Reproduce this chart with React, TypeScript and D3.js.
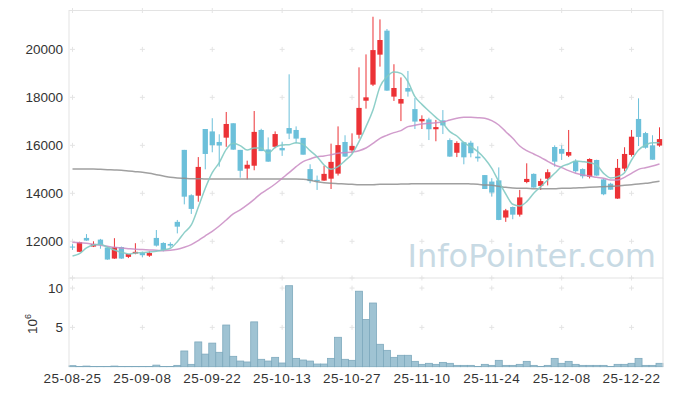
import * as d3 from "d3";

// trading-day tick labels (every 10th session)
const tickIdx = [0, 10, 20, 30, 40, 50, 60, 70, 80];
const tickLabels = ["25-08-25", "25-09-08", "25-09-22", "25-10-13", "25-10-27", "25-11-10", "25-11-24", "25-12-08", "25-12-22"];
const priceTicks = [12000, 14000, 16000, 18000, 20000];
const volTicks = [5, 10];

const open = [
  11780, 11560, 12140, 11780, 12070, 11740, 11280, 11760, 11350, 11490,
  11510, 11400, 12140, 11930, 11890, 12810, 15810, 13920, 13900, 16680,
  16580, 16140, 16320, 16920, 15810, 15030, 15150, 16640, 15830, 15940,
  15890, 16720, 16640, 16310, 15010, 14560, 14530, 14610, 14820, 16140,
  15790, 16440, 17860, 18530, 19780, 20780, 18030, 17740, 18390, 17510,
  17000, 17080, 16670, 17040, 16220, 15690, 16130, 16110, 15530, 14760,
  14490, 14540, 12990, 13430, 13110, 14470, 14810, 14310, 14610, 15930,
  15850, 15570, 15350, 15010, 14690, 15390, 14580, 14400, 13780, 15030,
  15600, 17100, 16510, 16000, 15990,
];
const close = [
  11760, 11960, 12030, 11890, 11850, 11240, 11760, 11280, 11470, 11560,
  11420, 11510, 11820, 11640, 11820, 12610, 13860, 13350, 15100, 15640,
  16010, 15990, 16890, 15820, 14940, 15190, 16560, 15760, 15320, 16470,
  15790, 16490, 16280, 15610, 14510, 14500, 14810, 15310, 16010, 15530,
  15970, 17560, 18000, 19970, 20390, 18280, 18390, 17930, 18240, 16990,
  17100, 16670, 16760, 16830, 15530, 16100, 15500, 15670, 15460, 14180,
  14030, 12890, 13290, 13110, 13830, 14600, 14240, 14510, 14880, 15320,
  15650, 15720, 14920, 14710, 15430, 14740, 13960, 14150, 15060, 15640,
  16360, 16350, 15900, 15400, 16260,
];
const high = [
  11880, 11980, 12300, 12000, 12100, 11760, 12130, 11780, 11470, 11920,
  11570, 11580, 12470, 11960, 11960, 12890, 15810, 13960, 15510, 16680,
  17130, 16460, 17390, 16920, 15810, 15360, 17430, 16690, 16330, 16580,
  16150, 18960, 16790, 16310, 15210, 14740, 15150, 16070, 16790, 16420,
  16500, 19250, 19790, 21360, 21250, 20850, 19380, 18830, 19100, 17970,
  17250, 17150, 17060, 17470, 16290, 16170, 16150, 16190, 15960, 14760,
  14630, 15080, 13350, 13450, 14140, 15250, 14830, 14610, 15000, 16000,
  16000, 16640, 15420, 15040, 15460, 15400, 14610, 14440, 15430, 15920,
  16640, 17960, 16560, 16420, 16750,
];
const low = [
  11640, 11550, 12020, 11760, 11690, 11230, 11270, 11270, 11300, 11460,
  11330, 11350, 11780, 11580, 11750, 12330, 13540, 13140, 13650, 15000,
  15710, 15110, 15940, 15810, 14650, 14580, 14960, 15760, 15310, 15880,
  15560, 16260, 16080, 15610, 14420, 14140, 14520, 14180, 14740, 15520,
  15670, 16280, 17530, 18470, 19280, 18270, 17850, 17010, 18030, 16680,
  16680, 16220, 16170, 16470, 15520, 15510, 15210, 15500, 15320, 14180,
  13860, 12880, 12810, 12920, 13030, 14420, 14230, 14140, 14330, 15110,
  15390, 15510, 14860, 14620, 14620, 14730, 13920, 14150, 13770, 14920,
  15530, 15970, 15860, 15400, 15940,
];
// volume, millions of shares
const volume = [
  0.13, 0.02, 0.08, 0.02, 0.02, 0.02, 0.08, 0.02, 0.02, 0.02,
  0.02, 0.02, 0.2, 0.02, 0.02, 0.17, 2.0, 0.3, 3.15, 1.6,
  3.0, 1.83, 5.3, 1.32, 0.72, 0.6, 5.7, 0.94, 0.72, 1.19,
  0.47, 10.3, 1.06, 0.85, 0.72, 0.34, 0.34, 1.06, 3.74, 0.94,
  0.81, 9.6, 6.0, 8.1, 2.85, 2.08, 1.19, 1.45, 1.45, 0.68,
  0.3, 0.43, 0.3, 0.55, 0.43, 0.17, 0.17, 0.17, 0.04, 0.3,
  0.17, 0.81, 0.17, 0.17, 0.3, 0.68, 0.17, 0.04, 0.17, 1.06,
  0.43, 0.68, 0.3, 0.17, 0.17, 0.17, 0.17, 0.04, 0.3, 0.3,
  0.43, 1.06, 0.17, 0.17, 0.43,
];
const ma5 = [
  11389, 11486, 11722, 11847, 11875, 11750, 11639, 11542, 11472, 11514,
  11528, 11556, 11583, 11639, 11708, 11986, 12361, 12681, 13417, 14208,
  14861, 15278, 15833, 16083, 15986, 15806, 15889, 15889, 15667, 15917,
  16014, 16028, 16111, 16042, 15778, 15528, 15181, 15000, 15111, 15361,
  15639, 16153, 16778, 17472, 18444, 18861, 19056, 19000, 18653, 18028,
  17708, 17431, 17167, 16917, 16569, 16389, 16111, 15944, 15736, 15444,
  15042, 14486, 13972, 13542, 13472, 13653, 14000, 14278, 14556, 14833,
  15111, 15222, 15347, 15319, 15278, 15181, 14833, 14639, 14694, 14861,
  15389, 15806, 16014, 16111, 16111,
];
const ma20 = [
  11958, 11944, 11917, 11875, 11833, 11792, 11750, 11722, 11694, 11667,
  11653, 11639, 11625, 11611, 11625, 11667, 11750, 11861, 12028, 12222,
  12417, 12639, 12889, 13139, 13306, 13514, 13750, 14000, 14181, 14389,
  14625, 14861, 15111, 15319, 15431, 15528, 15556, 15611, 15667, 15694,
  15722, 15778, 15889, 16083, 16292, 16417, 16528, 16611, 16778, 16833,
  16889, 16917, 16944, 16972, 17056, 17125, 17167, 17167, 17153, 17125,
  17028, 16847, 16569, 16292, 15972, 15778, 15639, 15500, 15333, 15181,
  15069, 14944, 14833, 14764, 14722, 14667, 14625, 14556, 14556, 14667,
  14833, 15000, 15069, 15139, 15222,
];
const ma120 = [
  15014, 15014, 15014, 15014, 15000, 14986, 14972, 14958, 14931, 14903,
  14875, 14833, 14778, 14722, 14667, 14639, 14625, 14611, 14611, 14597,
  14597, 14597, 14597, 14597, 14597, 14597, 14597, 14597, 14597, 14597,
  14597, 14597, 14597, 14583, 14542, 14486, 14444, 14417, 14403, 14389,
  14375, 14361, 14361, 14361, 14375, 14375, 14375, 14389, 14389, 14403,
  14403, 14403, 14403, 14403, 14403, 14403, 14403, 14389, 14375, 14347,
  14333, 14292, 14250, 14222, 14208, 14208, 14194, 14194, 14194, 14194,
  14208, 14208, 14222, 14236, 14250, 14264, 14278, 14292, 14306, 14333,
  14361, 14389, 14417, 14458, 14500,
];

const W = 673;
const H = 396;
const left = 69;
const right = 663;
const pTop = 10.5;
const pBot = 278;
const vBot = 366.7;
const red = "#ec3236";
const blue = "#6cc0da";
const font = "Liberation Sans, Arial, sans-serif";

export default function App() {
  const idx = d3.range(open.length);
  const x = d3.scaleBand<number>().domain(idx).range([left, right]).padding(0);
  const cx = (i: number) => (x(i) as number) + x.bandwidth() / 2;
  const y = d3.scaleLinear().domain([10470, 21620]).range([pBot, pTop]);
  const yv = d3.scaleLinear().domain([0, 11.28]).range([vBot, pBot]);
  const bw = x.bandwidth() * 0.76;

  const line = (arr: number[]) =>
    d3.line<number>().x((_, i) => cx(i)).y((d) => y(d)).curve(d3.curveMonotoneX)(arr) || "";

  const plus = (px: number, py: number, k: string) => (
    <path key={k} d={`M${px - 2.5},${py}H${px + 2.5}M${px},${py - 2.5}V${py + 2.5}`} stroke="#e4e4e4" strokeWidth={1} />
  );

  return (
    <svg width={W} height={H} style={{ position: "absolute", left: 0, top: 0, background: "#fff" }} fontFamily={font}>
      <rect x={0} y={0} width={W} height={H} fill="#fff" />
      {/* watermark */}
      <text x={656} y={267} textAnchor="end" fontSize={32} fill="#c8dae4" fontFamily="DejaVu Sans, sans-serif">
        InfoPointer.com
      </text>

      {/* grid crosses */}
      {tickIdx.map((t) => priceTicks.map((p) => plus(cx(t), y(p), `g${t}-${p}`)))}
      {tickIdx.map((t) => plus(cx(t), pTop, `t${t}`))}
      {tickIdx.map((t) => plus(cx(t), pBot, `b${t}`))}
      {tickIdx.map((t) => volTicks.map((v) => plus(cx(t), yv(v), `v${t}-${v}`)))}

      {/* volume */}
      {volume.map((v, i) => (
        <rect key={`vb${i}`} x={x(i)} y={yv(v)} width={x.bandwidth()} height={vBot - yv(v)}
          fill="#9fc3d3" stroke="#7ea9bd" strokeWidth={0.8} />
      ))}

      {/* frames */}
      <rect x={left} y={pTop} width={right - left} height={pBot - pTop} fill="none" stroke="#e3e3e3" />
      <line x1={left} x2={left} y1={pBot} y2={vBot} stroke="#e3e3e3" />
      <line x1={right} x2={right} y1={pBot} y2={vBot} stroke="#e3e3e3" />

      {/* candles */}
      {idx.map((i) => {
        const up = close[i] >= open[i];
        const c = up ? red : blue;
        const top = y(Math.max(open[i], close[i]));
        const bot = y(Math.min(open[i], close[i]));
        return (
          <g key={`c${i}`}>
            <line x1={cx(i)} x2={cx(i)} y1={y(high[i])} y2={y(low[i])} stroke={c} strokeWidth={1} />
            <rect x={cx(i) - bw / 2} y={top} width={bw} height={Math.max(1, bot - top)} fill={c} />
          </g>
        );
      })}

      {/* moving averages */}
      <path d={line(ma120)} fill="none" stroke="#8f8f8f" strokeWidth={1.5} opacity={0.85} />
      <path d={line(ma20)} fill="none" stroke="#c98bc3" strokeWidth={1.5} opacity={0.85} />
      <path d={line(ma5)} fill="none" stroke="#82cac3" strokeWidth={1.5} opacity={0.9} />

      {/* y axis labels */}
      {priceTicks.map((p) => (
        <text key={`yl${p}`} x={63} y={y(p)} dy="0.35em" textAnchor="end" fontSize={13.5} fill="#333">
          {p}
        </text>
      ))}
      {volTicks.map((v) => (
        <text key={`vl${v}`} x={63} y={yv(v)} dy="0.35em" textAnchor="end" fontSize={13.5} fill="#333">
          {v}
        </text>
      ))}
      <text transform="translate(37,324) rotate(-90)" textAnchor="middle" fontSize={13.5} fill="#333">
        10<tspan dy={-6} fontSize={9}>6</tspan>
      </text>

      {/* x axis labels */}
      {tickIdx.map((t, k) => (
        <text key={`xl${t}`} x={cx(t)} y={382.5} textAnchor="middle" fontSize={13.5} fill="#333" letterSpacing={0.5}>
          {tickLabels[k]}
        </text>
      ))}
    </svg>
  );
}
